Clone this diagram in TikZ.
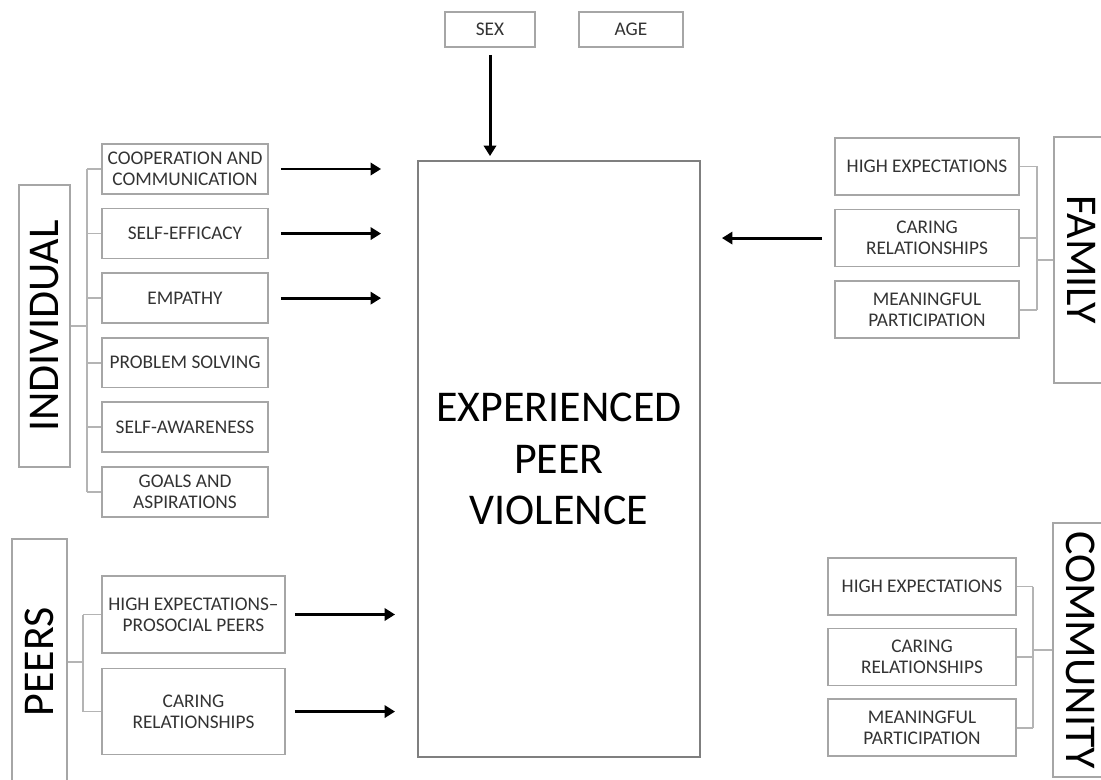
\documentclass[tikz,border=0pt]{standalone}
\usepackage{fontspec}
\setmainfont{Carlito}
\usetikzlibrary{arrows.meta, positioning}
\definecolor{framegray}{HTML}{A6A6A6}
\definecolor{maingray}{HTML}{7F7F7F}
\definecolor{linegray}{HTML}{B4B4B4}
\definecolor{labelgray}{HTML}{333333}
\tikzstyle{arrow} = [line width=1.7pt, -{Triangle[length=6pt,width=7pt]}]
\tikzstyle{factor} = [rectangle, minimum width=3.32cm, minimum height=1cm, inner sep=0pt, align=center, draw=framegray, line width=0.9pt, text=labelgray, font=\fontsize{11}{12}\selectfont]
\tikzstyle{sector} = [rectangle, inner sep=0pt, draw=framegray, line width=0.9pt, font=\fontsize{25}{29}\selectfont]
\tikzstyle{outcome} = [rectangle, minimum width=5.64cm, minimum height=11.92cm, align=center, draw=maingray, line width=1.1pt, font=\fontsize{25}{29.5}\selectfont]
\tikzstyle{branch} = [draw=linegray, line width=1pt]

\begin{document}
\begin{tikzpicture}[x=0.02cm, y=-0.02cm]
        \useasboundingbox (0,0) rectangle (1101,780);

        % Outcome and covariates
        \node (main) [outcome] at (559,459) {EXPERIENCED\\PEER\\VIOLENCE};
        \node (sex) [factor, minimum width=1.8cm, minimum height=0.7cm] at (490,29.5) {SEX};
        \node (age) [factor, minimum width=2.08cm, minimum height=0.7cm] at (631,29.5) {AGE};

        % Individual
        \node (individual) [sector, rotate=90, minimum width=5.64cm, minimum height=1.02cm] at (44.5,326) {INDIVIDUAL};
        \node (ind1) [factor] at (185,169) {COOPERATION AND\\COMMUNICATION};
        \node (ind2) [factor, below=0.26cm of ind1] {SELF-EFFICACY};
        \node (ind3) [factor, below=0.26cm of ind2] {EMPATHY};
        \node (ind4) [factor, below=0.26cm of ind3] {PROBLEM SOLVING};
        \node (ind5) [factor, below=0.26cm of ind4] {SELF-AWARENESS};
        \node (ind6) [factor, below=0.26cm of ind5] {GOALS AND\\ASPIRATIONS};

        % Peers
        \node (peers) [sector, rotate=90, minimum width=4.92cm, minimum height=1.1cm] at (39.5,662) {PEERS};
        \node (peer1) [factor, minimum width=3.66cm, minimum height=1.54cm] at (193.5,614.5) {HIGH EXPECTATIONS--\\PROSOCIAL PEERS};
        \node (peer2) [factor, minimum width=3.66cm, minimum height=1.72cm, below=0.28cm of peer1] {CARING\\RELATIONSHIPS};

        % Family
        \node (family) [sector, rotate=-90, minimum width=4.92cm, minimum height=1.12cm] at (1082,260) {FAMILY};
        \node (fam1) [factor, minimum width=3.68cm, minimum height=1.14cm] at (927,166.5) {HIGH EXPECTATIONS};
        \node (fam2) [factor, minimum width=3.68cm, minimum height=1.14cm, below=0.26cm of fam1] {CARING\\RELATIONSHIPS};
        \node (fam3) [factor, minimum width=3.68cm, minimum height=1.14cm, below=0.26cm of fam2] {MEANINGFUL\\PARTICIPATION};

        % Community
        \node (community) [sector, rotate=-90, minimum width=5.08cm, minimum height=1.1cm] at (1080.5,650) {COMMUNITY};
        \node (com1) [factor, minimum width=3.76cm, minimum height=1.14cm] at (922,586.5) {HIGH EXPECTATIONS};
        \node (com2) [factor, minimum width=3.76cm, minimum height=1.14cm, below=0.24cm of com1] {CARING\\RELATIONSHIPS};
        \node (com3) [factor, minimum width=3.76cm, minimum height=1.14cm, below=0.24cm of com2] {MEANINGFUL\\PARTICIPATION};

        % Brackets
        \coordinate (indbus) at (87,326);
        \coordinate (peerbus) at (83,662);
        \coordinate (fambus) at (1037,260);
        \coordinate (combus) at (1033,650);
        \draw [branch] (individual.south) -- (indbus);
        \draw [branch] (indbus |- ind1) -- (indbus |- ind6);
        \foreach \i in {1,...,6}
            \draw [branch] (indbus |- ind\i) -- (ind\i.west);
        \draw [branch] (peers.south) -- (peerbus);
        \draw [branch] (peerbus |- peer1) -- (peerbus |- peer2);
        \foreach \i in {1,2}
            \draw [branch] (peerbus |- peer\i) -- (peer\i.west);
        \draw [branch] (family.south) -- (fambus);
        \draw [branch] (fambus |- fam1) -- (fambus |- fam3);
        \foreach \i in {1,2,3}
            \draw [branch] (fam\i.east) -- (fambus |- fam\i);
        \draw [branch] (community.south) -- (combus);
        \draw [branch] (combus |- com1) -- (combus |- com3);
        \foreach \i in {1,2,3}
            \draw [branch] (com\i.east) -- (combus |- com\i);

        % Arrows
        \draw [arrow, shorten <=0.14cm, shorten >=0.08cm] (sex.south) -- (sex.south |- main.north);
        \foreach \i in {1,2,3}
            \draw [arrow, shorten <=0.24cm, shorten >=0.72cm] (ind\i.east) -- (ind\i.east -| main.west);
        \foreach \i in {1,2}
            \draw [arrow, shorten <=0.18cm, shorten >=0.44cm] (peer\i.east) -- (peer\i.east -| main.west);
        \draw [arrow, shorten <=0.24cm, shorten >=0.42cm] (fam2.west) -- (fam2.west -| main.east);
    \end{tikzpicture}
\end{document}
